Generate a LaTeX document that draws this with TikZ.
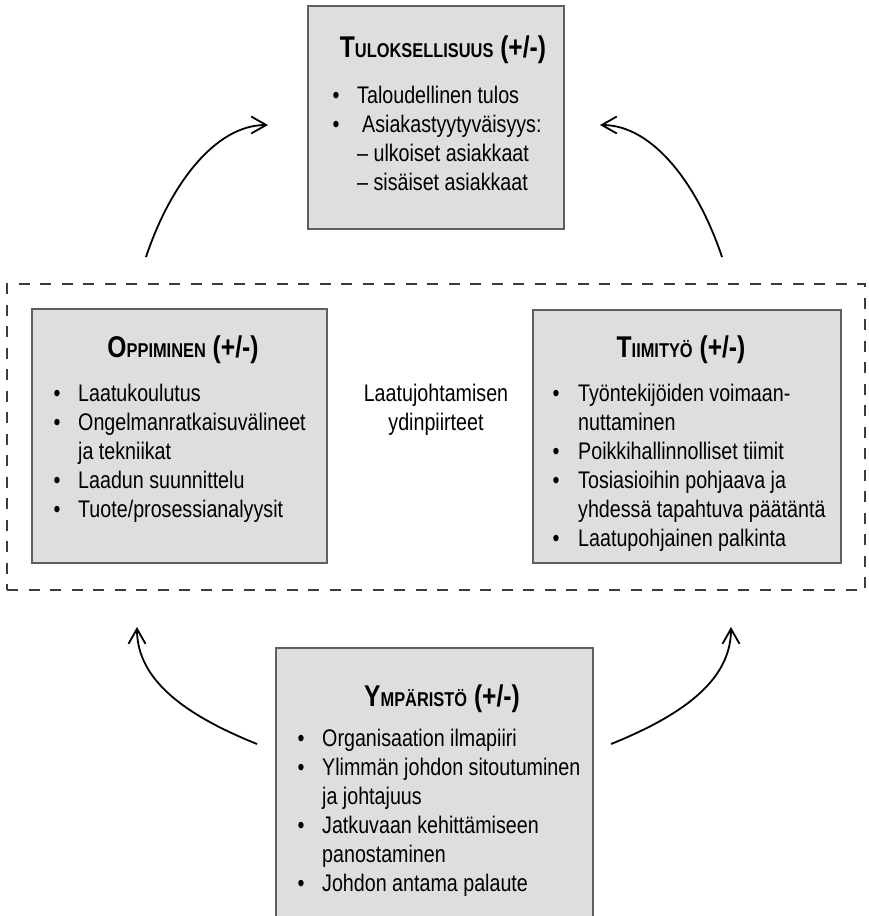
\documentclass[tikz,border=0pt]{standalone}
\usepackage{fontspec}
\setmainfont{Liberation Sans}[FakeStretch=0.82]
\usetikzlibrary{arrows.meta}
\definecolor{boxfill}{RGB}{221,222,224}
\definecolor{boxline}{RGB}{95,95,95}
\definecolor{dashline}{RGB}{60,60,60}
\newcommand\sctitle[2]{{\fontsize{30}{30}\selectfont\bfseries #1{\fontsize{20}{20}\selectfont #2} (+/-)}}
\tikzset{
  box/.style={draw=boxline, line width=1.6pt, fill=boxfill, inner sep=0pt, outer sep=0pt, anchor=north west},
  frame/.style={draw=dashline, line width=1.3pt, dash pattern=on 11pt off 10.5pt, inner sep=0pt, outer sep=0pt, anchor=north west},
  txt/.style={inner sep=0pt, anchor=base west, font=\fontsize{24}{29}\selectfont},
  bul/.style={inner sep=0pt, anchor=base, font=\fontsize{24}{29}\selectfont},
  ctr/.style={inner sep=0pt, anchor=base, font=\fontsize{24}{29}\selectfont},
  ttl/.style={inner sep=0pt, anchor=base},
  arr/.style={line width=1.8pt, -{Straight Barb[length=15pt,width=17pt]}}
}
\begin{document}
\begin{tikzpicture}[x=1pt,y=-1pt]
\useasboundingbox (0,0) rectangle (868,916);
\clip (0,0) rectangle (868,916);
% dashed frame
\node[frame, minimum width=858, minimum height=306] (core) at (7,284) {};
% boxes
\node[box, minimum width=295, minimum height=254] (leftbox) at (32,309) {};
\node[box, minimum width=256, minimum height=223] (topbox) at (308,6) {};
\node[box, minimum width=308, minimum height=253] (rightbox) at (533,310) {};
\node[box, minimum width=317, minimum height=300] (botbox) at (276,648) {};
% top box text
\node[ttl] (ttitle) at (443,57) {\sctitle{T}{ULOKSELLISUUS}};
\node[bul] (tb1) at (336,103) {\textbullet};
\node[txt] (tt1) at (357,103) {Taloudellinen tulos};
\node[bul] (tb2) at (336,132) {\textbullet};
\node[txt] (tt2) at (362,132) {Asiakastyytyväisyys:};
\node[txt] (tt3) at (357,161) {– ulkoiset asiakkaat};
\node[txt] (tt4) at (357,190) {– sisäiset asiakkaat};
% left box text
\node[ttl] (ltitle) at (183,357) {\sctitle{O}{PPIMINEN}};
\node[bul] (lb1) at (57,401) {\textbullet};
\node[txt] (lt1) at (78,401) {Laatukoulutus};
\node[bul] (lb2) at (57,430) {\textbullet};
\node[txt] (lt2) at (78,430) {Ongelmanratkaisuvälineet};
\node[txt] (lt3) at (78,459) {ja tekniikat};
\node[bul] (lb4) at (57,488) {\textbullet};
\node[txt] (lt4) at (78,488) {Laadun suunnittelu};
\node[bul] (lb5) at (57,517) {\textbullet};
\node[txt] (lt5) at (78,517) {Tuote/prosessianalyysit};
% centre text
\node[ctr] (c1) at (436,401) {Laatujohtamisen};
\node[ctr] (c2) at (436,430) {ydinpiirteet};
% right box text
\node[ttl] (rtitle) at (681,357) {\sctitle{T}{IIMITYÖ}};
\node[bul] (rb1) at (556,401) {\textbullet};
\node[txt] (rt1) at (578,401) {Työntekijöiden voimaan-};
\node[txt] (rt2) at (578,430) {nuttaminen};
\node[bul] (rb3) at (556,459) {\textbullet};
\node[txt] (rt3) at (578,459) {Poikkihallinnolliset tiimit};
\node[bul] (rb4) at (556,488) {\textbullet};
\node[txt] (rt4) at (578,488) {Tosiasioihin pohjaava ja};
\node[txt] (rt5) at (578,517) {yhdessä tapahtuva päätäntä};
\node[bul] (rb6) at (556,546) {\textbullet};
\node[txt] (rt6) at (578,546) {Laatupohjainen palkinta};
% bottom box text
\node[ttl] (btitle) at (442,706) {\sctitle{Y}{MPÄRISTÖ}};
\node[bul] (bb1) at (301,746) {\textbullet};
\node[txt] (bt1) at (322,746) {Organisaation ilmapiiri};
\node[bul] (bb2) at (301,775) {\textbullet};
\node[txt] (bt2) at (322,775) {Ylimmän johdon sitoutuminen};
\node[txt] (bt3) at (322,804) {ja johtajuus};
\node[bul] (bb4) at (301,833) {\textbullet};
\node[txt] (bt4) at (322,833) {Jatkuvaan kehittämiseen};
\node[txt] (bt5) at (322,862) {panostaminen};
\node[bul] (bb6) at (301,891) {\textbullet};
\node[txt] (bt6) at (322,891) {Johdon antama palaute};
% arrow end points
\coordinate (a1s) at (146,257);
\coordinate (a1e) at (268,125);
\coordinate (a2s) at (722,257);
\coordinate (a2e) at (600,125);
\coordinate (a3s) at (257,744);
\coordinate (a3e) at (137,627);
\coordinate (a4s) at (611,744);
\coordinate (a4e) at (731,627);
\draw[arr] (a1s) .. controls (170,185) and (215,125) .. (a1e);
\draw[arr] (a2s) .. controls (698,185) and (653,125) .. (a2e);
\draw[arr] (a3s) .. controls (185,715) and (137,680) .. (a3e);
\draw[arr] (a4s) .. controls (683,715) and (731,680) .. (a4e);
\end{tikzpicture}
\end{document}
